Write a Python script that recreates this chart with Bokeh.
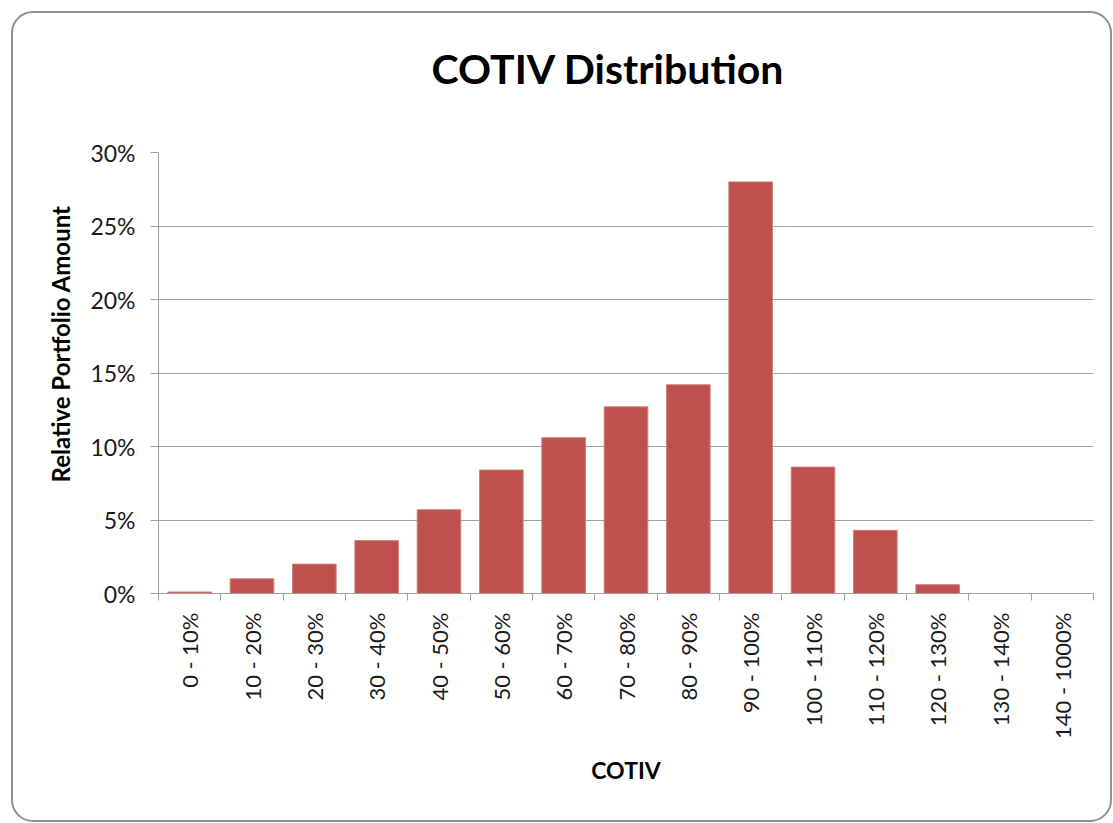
import math
from bokeh.plotting import figure
from bokeh.models import (Range1d, FixedTicker, NumeralTickFormatter,
                          CustomJSTickFormatter, LinearAxis)
from bokeh.embed import file_html
from bokeh.resources import INLINE

# ---- data ----
categories = ["0 - 10%", "10 - 20%", "20 - 30%", "30 - 40%", "40 - 50%",
              "50 - 60%", "60 - 70%", "70 - 80%", "80 - 90%", "90 - 100%",
              "100 - 110%", "110 - 120%", "120 - 130%", "130 - 140%",
              "140 - 1000%"]
values = [0.001, 0.010, 0.020, 0.036, 0.057, 0.084, 0.106, 0.127, 0.142,
          0.280, 0.086, 0.043, 0.006, 0.0, 0.0]
y_ticks = [0.0, 0.05, 0.10, 0.15, 0.20, 0.25, 0.30]
title_text = "COTIV Distribution"
x_title = "COTIV"
y_title = "Relative Portfolio Amount"

FONT = "Lato"
GRID = "#a0a0a0"
TXT = "#1a1a1a"

n = len(categories)
centers = [i + 0.5 for i in range(n)]
bounds = [float(i) for i in range(n + 1)]

p = figure(width=1101, height=811, output_backend="svg", toolbar_location=None,
           x_range=Range1d(0, n), y_range=Range1d(0, y_ticks[-1]),
           min_border_left=145, min_border_right=21, min_border_top=139,
           min_border_bottom=231)
p.styles = {"border": "2px solid #8f8f8f", "border-radius": "22px",
            "margin-left": "11px", "margin-top": "11px", "background": "white"}
p.border_fill_color = None
p.outline_line_color = None

xa = p.below[0]
ya = p.left[0]

p.vbar(x=centers, top=values, width=0.7, fill_color="#C0504D",
       line_color="#d2807d", line_width=1)

# invisible spacer between the title and the plot area
spacer = LinearAxis(ticker=FixedTicker(ticks=[0.0]), major_tick_in=0,
                    major_tick_out=55, major_tick_line_color=None,
                    minor_tick_line_color=None, axis_line_color=None,
                    major_label_standoff=5,
                    major_label_text_font_size="1px",
                    formatter=CustomJSTickFormatter(code="return '';"))
p.add_layout(spacer, "above")

# title
p.title.text = title_text
p.title.align = "left"
p.title.offset = 273
p.title.text_font = FONT
p.title.text_font_size = "41px"
p.title.text_font_style = "bold"
p.title.text_color = "#000000"
p.title.standoff = 10

# x axis
xa.ticker = FixedTicker(ticks=centers, minor_ticks=bounds)
xa.formatter = CustomJSTickFormatter(args=dict(cats=categories),
                                     code="return cats[Math.floor(tick)];")
xa.major_label_orientation = math.pi / 2
xa.major_tick_in = 0
xa.major_tick_out = 0
xa.minor_tick_in = 0
xa.minor_tick_out = 7
xa.minor_tick_line_color = GRID
xa.axis_line_color = GRID
xa.major_label_standoff = 12
xa.major_label_text_font = FONT
xa.major_label_text_font_size = "22px"
xa.major_label_text_color = TXT
xa.axis_label = x_title
xa.axis_label_text_font = FONT
xa.axis_label_text_font_size = "23px"
xa.axis_label_text_font_style = "bold"
xa.axis_label_text_color = "#000000"
xa.axis_label_standoff = 14

# y axis
ya.ticker = FixedTicker(ticks=y_ticks)
ya.formatter = NumeralTickFormatter(format="0%")
ya.major_tick_in = 0
ya.major_tick_out = 8
ya.minor_tick_line_color = None
ya.major_tick_line_color = GRID
ya.axis_line_color = GRID
ya.major_label_standoff = 15
ya.major_label_text_font = FONT
ya.major_label_text_font_size = "23px"
ya.major_label_text_color = TXT
ya.axis_label = "\u00a0" * 10 + y_title
ya.axis_label_text_font = FONT
ya.axis_label_text_font_size = "24px"
ya.axis_label_text_font_style = "bold"
ya.axis_label_text_color = "#000000"
ya.axis_label_standoff = 12

p.xgrid.grid_line_color = None
p.ygrid.ticker = FixedTicker(ticks=y_ticks[1:])
p.ygrid.grid_line_color = GRID

open("out.html", "w").write(file_html(p, INLINE))
